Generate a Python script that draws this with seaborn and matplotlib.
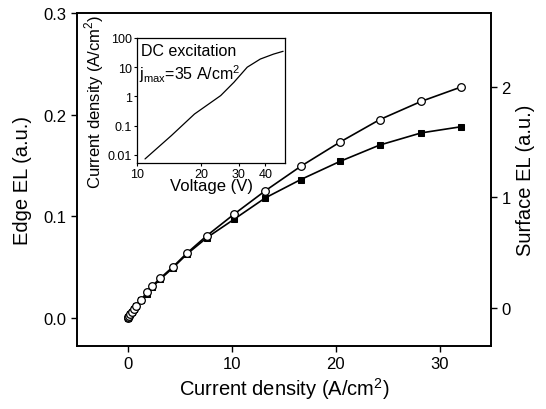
import matplotlib
matplotlib.use('Agg')
import matplotlib.pyplot as plt
import seaborn as sns
import pandas as pd
from matplotlib.ticker import FixedLocator, FormatStrFormatter, NullLocator

#----------------------------------------------------
cur=[0, 0.05, 0.1, 0.2, 0.35, 0.55, 0.8, 1.3, 1.8, 2.3, 3.1, 4.3, 5.7, 7.6, 10.2, 13.2, 16.6, 20.4, 24.2, 28.2, 32.0]
el_open=[0, 0.001, 0.002, 0.004, 0.006, 0.009, 0.012, 0.018, 0.025, 0.031, 0.039, 0.050, 0.064, 0.081, 0.102, 0.125, 0.149, 0.173, 0.195, 0.213, 0.227]
el_fill=[0, 0.001, 0.002, 0.004, 0.006, 0.009, 0.012, 0.018, 0.024, 0.030, 0.038, 0.049, 0.063, 0.079, 0.097, 0.118, 0.136, 0.154, 0.170, 0.182, 0.188]
volt=[10.9, 14.5, 18.6, 24.7, 28.5, 32.9, 37.9, 43.7, 48.5]
jdens=[0.0073, 0.046, 0.25, 1.07, 3.05, 10, 19, 28, 35]

df=pd.DataFrame({'cur': cur, 'open': el_open, 'fill': el_fill})
dfi=pd.DataFrame({'V': volt, 'J': jdens})

#----------------------------------------------------
sns.set_style('ticks')
plt.rcParams['font.family']=['Liberation Sans', 'DejaVu Sans']
plt.rcParams['mathtext.fontset']='custom'
plt.rcParams['mathtext.rm']='Liberation Sans'
plt.rcParams['text.color']='black'
plt.rcParams['axes.labelcolor']='black'
plt.rcParams['xtick.color']='black'
plt.rcParams['ytick.color']='black'

fig=plt.figure(figsize=(5.46, 4.10), dpi=100)
ax=fig.add_axes([0.141, 0.154, 0.758, 0.812])

sns.lineplot(data=df, x='cur', y='fill', ax=ax, color='black', lw=1.2, marker='s', markersize=4.5,
	markerfacecolor='black', markeredgecolor='black', sort=False)
sns.lineplot(data=df, x='cur', y='open', ax=ax, color='black', lw=1.2, marker='o', markersize=5.5,
	markerfacecolor='white', markeredgecolor='black', markeredgewidth=0.9, sort=False)

ax.set_xlim(-4.9, 34.9)
ax.set_ylim(-0.0275, 0.3)
ax.set_xticks([0, 10, 20, 30])
ax.set_yticks([0.0, 0.1, 0.2, 0.3])
ax.yaxis.set_major_formatter(FormatStrFormatter('%.1f'))
ax.set_xlabel('Current density (A/cm$^2$)', fontsize=14.5, labelpad=3)
ax.set_ylabel('Edge EL (a.u.)', fontsize=14.5, labelpad=8)
ax.tick_params(labelsize=12, length=4, width=1, direction='out')
for s in ax.spines.values():
	s.set_linewidth(1.2)
	s.set_color('black')

ax2=ax.twinx()
ax2.set_ylim(-0.344, 2.67)
ax2.set_yticks([0, 1, 2])
ax2.set_ylabel('Surface EL (a.u.)', fontsize=14.5, labelpad=4)
ax2.tick_params(labelsize=12, length=4, width=1, direction='out')
for s in ax2.spines.values():
	s.set_linewidth(1.2)
	s.set_color('black')

#inset
axi=fig.add_axes([0.251, 0.6, 0.271, 0.305])
sns.lineplot(data=dfi, x='V', y='J', ax=axi, color='black', lw=0.9, sort=False)
axi.set_xscale('log')
axi.set_yscale('log')
axi.set_xlim(10, 49.5)
axi.set_ylim(0.0053, 100)
axi.xaxis.set_major_locator(FixedLocator([10, 20, 30, 40]))
axi.xaxis.set_minor_locator(NullLocator())
axi.xaxis.set_major_formatter(FormatStrFormatter('%d'))
axi.yaxis.set_major_locator(FixedLocator([0.01, 0.1, 1, 10, 100]))
axi.yaxis.set_minor_locator(NullLocator())
axi.set_yticklabels(['0.01', '0.1', '1', '10', '100'])
axi.tick_params(labelsize=9, length=2, width=0.8, pad=1.5)
axi.set_xlabel('Voltage (V)', fontsize=12, labelpad=-1)
axi.set_ylabel('Current density (A/cm$^2$)', fontsize=12, labelpad=1)
for s in axi.spines.values():
	s.set_linewidth(0.9)
	s.set_color('black')
axi.text(0.03, 0.96, 'DC excitation', transform=axi.transAxes, fontsize=11.5, va='top', ha='left')
axi.text(0.01, 0.72, 'j$_{\\mathrm{max}}$=35 A/cm$^2$', transform=axi.transAxes, fontsize=11.5, va='center', ha='left')

#save
fig.savefig('out.png', dpi=100)
plt.close()
